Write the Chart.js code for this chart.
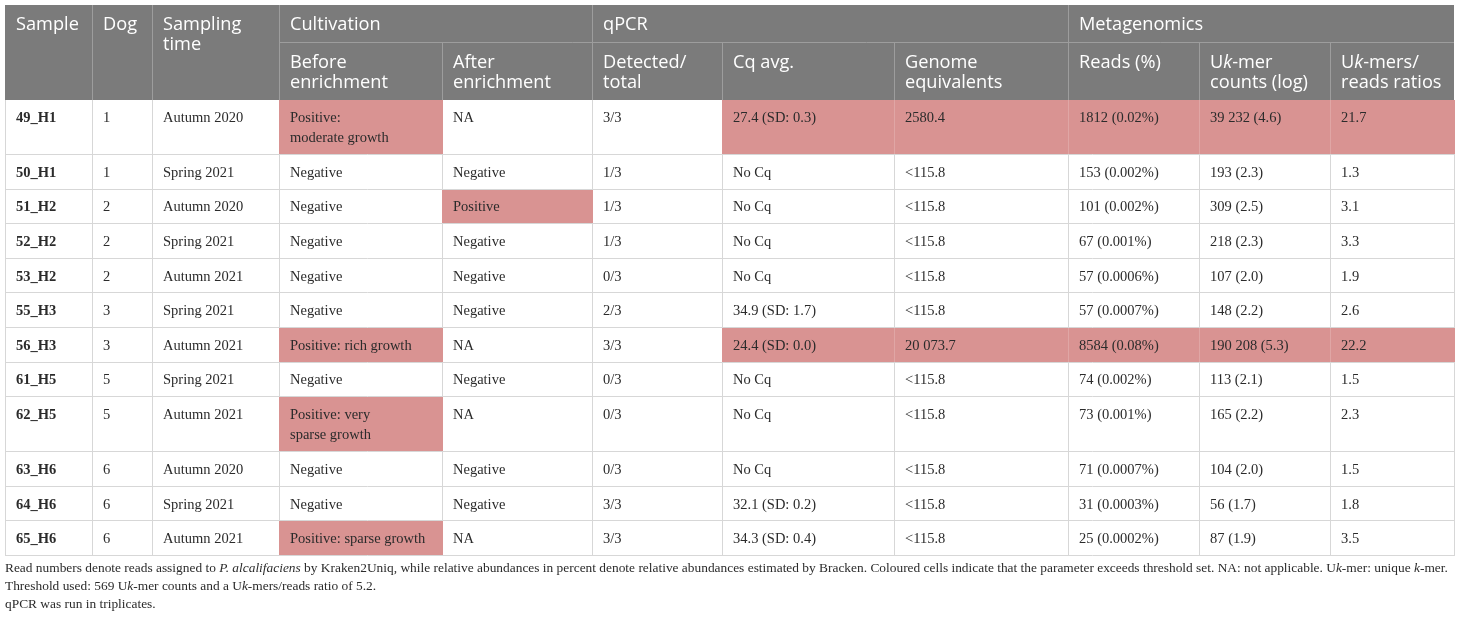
<!DOCTYPE html>
<html>
<head>
<meta charset="utf-8">
<style>
  html, body { margin: 0; padding: 0; background: #ffffff; }
  #wrap { width: 1460px; height: 618px; }
</style>
</head>
<body>
<div id="wrap"><canvas id="tableChart" width="1460" height="618"></canvas></div>
<script src="https://cdn.jsdelivr.net/npm/chart.js@4.4.1/dist/chart.umd.min.js"></script>
<script>
// table values
const samples = ["49_H1", "50_H1", "51_H2", "52_H2", "53_H2", "55_H3", "56_H3", "61_H5", "62_H5", "63_H6", "64_H6", "65_H6"];
const dogs = ["1", "1", "2", "2", "2", "3", "3", "5", "5", "6", "6", "6"];
const samplingTimes = ["Autumn 2020", "Spring 2021", "Autumn 2020", "Spring 2021", "Autumn 2021", "Spring 2021",
  "Autumn 2021", "Spring 2021", "Autumn 2021", "Autumn 2020", "Spring 2021", "Autumn 2021"];
const beforeEnrichment = ["Positive:\nmoderate growth", "Negative", "Negative", "Negative", "Negative", "Negative",
  "Positive: rich growth", "Negative", "Positive: very\nsparse growth", "Negative", "Negative", "Positive: sparse growth"];
const afterEnrichment = ["NA", "Negative", "Positive", "Negative", "Negative", "Negative", "NA", "Negative", "NA", "Negative", "Negative", "NA"];
const detectedTotal = ["3/3", "1/3", "1/3", "1/3", "0/3", "2/3", "3/3", "0/3", "0/3", "0/3", "3/3", "3/3"];
const cqAvg = ["27.4 (SD: 0.3)", "No Cq", "No Cq", "No Cq", "No Cq", "34.9 (SD: 1.7)", "24.4 (SD: 0.0)", "No Cq",
  "No Cq", "No Cq", "32.1 (SD: 0.2)", "34.3 (SD: 0.4)"];
const genomeEquivalents = ["2580.4", "<115.8", "<115.8", "<115.8", "<115.8", "<115.8", "20 073.7", "<115.8",
  "<115.8", "<115.8", "<115.8", "<115.8"];
const reads = ["1812 (0.02%)", "153 (0.002%)", "101 (0.002%)", "67 (0.001%)", "57 (0.0006%)", "57 (0.0007%)",
  "8584 (0.08%)", "74 (0.002%)", "73 (0.001%)", "71 (0.0007%)", "31 (0.0003%)", "25 (0.0002%)"];
const ukmerCounts = ["39 232 (4.6)", "193 (2.3)", "309 (2.5)", "218 (2.3)", "107 (2.0)", "148 (2.2)", "190 208 (5.3)",
  "113 (2.1)", "165 (2.2)", "104 (2.0)", "56 (1.7)", "87 (1.9)"];
const ratios = ["21.7", "1.3", "3.1", "3.3", "1.9", "2.6", "22.2", "1.5", "2.3", "1.5", "1.8", "3.5"];

// headers (*...* = italic)
const spanHeaders = ["Sample", "Dog", "Sampling\ntime"];
const groupHeaders = ["Cultivation", "qPCR", "Metagenomics"];
const groupSpans = [[3, 4], [5, 7], [8, 10]];
const subHeaders = ["Before\nenrichment", "After\nenrichment", "Detected/\ntotal", "Cq avg.", "Genome\nequivalents",
  "Reads (%)", "U*k*-mer\ncounts (log)", "U*k*-mers/\nreads ratios"];
const footnotes = [
  "Read numbers denote reads assigned to *P. alcalifaciens* by Kraken2Uniq, while relative abundances in percent denote relative abundances estimated by Bracken. Coloured cells indicate that the parameter exceeds threshold set. NA: not applicable. U*k*-mer: unique *k*-mer.",
  "Threshold used: 569 U*k*-mer counts and a U*k*-mers/reads ratio of 5.2.",
  "qPCR was run in triplicates."
];
const UKMER_THRESHOLD = 569;
const RATIO_THRESHOLD = 5.2;

// layout (plot units, 1 unit = 1 px on the 1460x618 canvas)
const COL_EDGES = [5, 92, 152, 279, 442, 592, 722, 894, 1068, 1199, 1330, 1454];
const HEAD_TOP = 5, HEAD_MID = 42, HEAD_BOTTOM = 100;
const ROW_H = 34.6, ROW_H2 = 55;
const PAD_X = 11;

const HEAD_BG = "#7b7b7b";
const HEAD_LINE = "#9d9d9d";
const GRID = "#d7d7d7";
const HILITE = "#d99392";
const HILITE_LINE = "#e0a6a5";
const TEXT = "#2b2b2b";

const SERIF = "'Liberation Serif', 'DejaVu Serif', serif";
const SANS = "'Open Sans', 'Noto Sans', sans-serif";
const HEAD_SIZE = 18.2, CELL_SIZE = 14.5, NOTE_SIZE = 13.4;

const columns = [samples, dogs, samplingTimes, beforeEnrichment, afterEnrichment, detectedTotal, cqAvg,
  genomeEquivalents, reads, ukmerCounts, ratios];

const num = (s) => parseFloat(s.replace(/ /g, ""));

// which cells exceed the thresholds
const isColoured = (r, c) => {
  if (c === 3 || c === 4) return columns[c][r].startsWith("Positive");
  if (c === 6 || c === 7) return !genomeEquivalents[r].startsWith("<");
  if (c >= 8) return num(ukmerCounts[r]) > UKMER_THRESHOLD && num(ratios[r]) > RATIO_THRESHOLD;
  return false;
};

const rowLines = (r) => Math.max(...columns.map((col) => col[r].split("\n").length));

// draw a string with *italic* runs
const drawRich = (ctx, text, x, y, size, family, weight, color) => {
  ctx.fillStyle = color;
  ctx.textBaseline = "middle";
  ctx.textAlign = "left";
  let cx = x;
  text.split("*").forEach((part, i) => {
    ctx.font = `${i % 2 ? "italic " : ""}${weight} ${size}px ${family}`;
    ctx.fillText(part, cx, y);
    cx += ctx.measureText(part).width;
  });
};

const tablePlugin = {
  id: "tablePlugin",
  beforeDraw: (chart) => {
    const { ctx, scales: { x, y } } = chart;
    const px = (v) => x.getPixelForValue(v);
    const py = (v) => y.getPixelForValue(v);

    // row boundaries
    const rowEdges = [HEAD_BOTTOM];
    samples.forEach((s, r) => rowEdges.push(rowEdges[r] + (rowLines(r) > 1 ? ROW_H2 : ROW_H)));
    const tableBottom = rowEdges[rowEdges.length - 1];

    ctx.save();

    // header background
    ctx.fillStyle = HEAD_BG;
    ctx.fillRect(px(COL_EDGES[0]), py(HEAD_TOP), px(COL_EDGES[11]) - px(COL_EDGES[0]), py(HEAD_BOTTOM) - py(HEAD_TOP));

    // header separators
    ctx.strokeStyle = HEAD_LINE;
    ctx.lineWidth = 1;
    ctx.beginPath();
    [1, 2, 3, 5, 8].forEach((c) => {
      ctx.moveTo(Math.round(px(COL_EDGES[c])) + 0.5, py(HEAD_TOP));
      ctx.lineTo(Math.round(px(COL_EDGES[c])) + 0.5, py(HEAD_BOTTOM));
    });
    [4, 6, 7, 9, 10].forEach((c) => {
      ctx.moveTo(Math.round(px(COL_EDGES[c])) + 0.5, py(HEAD_MID));
      ctx.lineTo(Math.round(px(COL_EDGES[c])) + 0.5, py(HEAD_BOTTOM));
    });
    ctx.moveTo(px(COL_EDGES[3]), Math.round(py(HEAD_MID)) + 0.5);
    ctx.lineTo(px(COL_EDGES[11]), Math.round(py(HEAD_MID)) + 0.5);
    ctx.stroke();

    // header text
    spanHeaders.forEach((h, c) => {
      h.split("\n").forEach((line, k) => {
        drawRich(ctx, line, px(COL_EDGES[c] + PAD_X), py(HEAD_TOP + 20 + k * 20), HEAD_SIZE, SANS, "normal", "#ffffff");
      });
    });
    groupHeaders.forEach((h, g) => {
      drawRich(ctx, h, px(COL_EDGES[groupSpans[g][0]] + PAD_X), py(HEAD_TOP + 20), HEAD_SIZE, SANS, "normal", "#ffffff");
    });
    subHeaders.forEach((h, i) => {
      h.split("\n").forEach((line, k) => {
        drawRich(ctx, line, px(COL_EDGES[i + 3] + PAD_X), py(HEAD_MID + 21 + k * 20), HEAD_SIZE, SANS, "normal", "#ffffff");
      });
    });

    // coloured cells
    samples.forEach((s, r) => {
      columns.forEach((col, c) => {
        if (!isColoured(r, c)) return;
        const x0 = Math.round(px(COL_EDGES[c]));
        const x1 = Math.round(px(COL_EDGES[c + 1])) + 1;
        const y0 = Math.round(py(rowEdges[r]));
        const y1 = Math.round(py(rowEdges[r + 1])) - 1;
        ctx.fillStyle = HILITE;
        ctx.fillRect(x0, y0, x1 - x0, y1 - y0);
      });
    });

    // body grid
    const gridColourAt = (r, c) => (isColoured(r, c) && (c === 0 || isColoured(r, c - 1)) ? HILITE_LINE : GRID);
    ctx.lineWidth = 1;
    COL_EDGES.forEach((e, c) => {
      samples.forEach((s, r) => {
        const left = c > 0 && isColoured(r, c - 1);
        const right = c < 11 && isColoured(r, c);
        ctx.strokeStyle = left && right ? HILITE_LINE : (left || right ? HILITE : GRID);
        if (!left && !right) ctx.strokeStyle = GRID;
        ctx.beginPath();
        ctx.moveTo(Math.round(px(e)) + 0.5, Math.round(py(rowEdges[r])));
        ctx.lineTo(Math.round(px(e)) + 0.5, Math.round(py(rowEdges[r + 1])));
        ctx.stroke();
      });
    });
    ctx.strokeStyle = GRID;
    ctx.beginPath();
    rowEdges.slice(1).forEach((e) => {
      ctx.moveTo(px(COL_EDGES[0]), Math.round(py(e)) - 0.5);
      ctx.lineTo(px(COL_EDGES[11]) + 1, Math.round(py(e)) - 0.5);
    });
    ctx.stroke();

    // cell text
    samples.forEach((s, r) => {
      columns.forEach((col, c) => {
        col[r].split("\n").forEach((line, k) => {
          drawRich(ctx, line, px(COL_EDGES[c] + PAD_X), py(rowEdges[r] + 18 + k * 20), CELL_SIZE, SERIF,
            c === 0 ? "bold" : "normal", TEXT);
        });
      });
    });

    // footnotes
    footnotes.forEach((f, k) => {
      drawRich(ctx, f, px(COL_EDGES[0]), py(tableBottom + 12 + k * 18), NOTE_SIZE, SERIF, "normal", TEXT);
    });

    ctx.restore();
  },
};

new Chart(document.getElementById("tableChart"), {
  type: "scatter",
  data: { datasets: [{ data: [], pointRadius: 0 }] },
  plugins: [tablePlugin],
  options: {
    responsive: false,
    animation: false,
    events: [],
    layout: { padding: 0 },
    plugins: { legend: { display: false }, tooltip: { enabled: false } },
    scales: {
      x: { type: "linear", min: 0, max: 1460, display: false },
      y: { type: "linear", min: 0, max: 618, reverse: true, display: false },
    },
  },
});
</script>
</body>
</html>
